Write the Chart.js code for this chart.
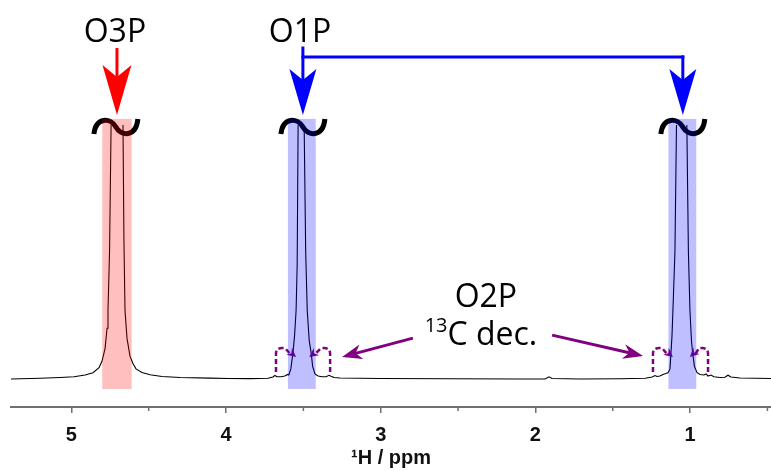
<!DOCTYPE html>
<html><head><meta charset="utf-8">
<script src="https://cdn.jsdelivr.net/npm/chart.js@4.4.1/dist/chart.umd.min.js"></script>
<style>html,body{margin:0;padding:0;background:#fff}</style>
</head><body>
<canvas id="c" width="771" height="470"></canvas>
<script>
// 1H NMR spectrum (ppm, relative intensity; peaks are truncated at 100)
const ppm = [5.390,5.202,5.073,4.983,4.911,4.860,4.821,4.802,4.782,4.769,4.763,4.753,4.743,4.737,4.724,4.705,4.686,4.673,4.666,4.660,4.653,4.640,4.621,4.601,4.582,4.543,4.491,4.414,4.297,4.103,3.987,3.845,3.729,3.697,3.684,3.671,3.645,3.620,3.601,3.594,3.581,3.568,3.557,3.547,3.540,3.534,3.527,3.514,3.501,3.495,3.485,3.475,3.462,3.449,3.440,3.425,3.405,3.379,3.353,3.334,3.321,3.302,3.263,3.005,2.553,2.100,1.938,1.912,1.892,1.711,1.452,1.290,1.245,1.227,1.214,1.195,1.176,1.156,1.143,1.130,1.124,1.117,1.111,1.098,1.088,1.079,1.056,1.033,1.021,1.011,1.001,0.991,0.983,0.972,0.955,0.936,0.910,0.897,0.884,0.865,0.846,0.807,0.775,0.755,0.736,0.677,0.477];
const intensity = [0.0,0.3,0.6,0.9,1.6,2.5,4.5,7,12,20,27,50,100,160,260,300,260,160,100,55,27,16,9,6,4,2.6,1.7,1.0,0.6,0.35,0.2,0.15,0.3,0.8,1.4,0.9,0.9,1.2,1.8,1.6,4,10,17,27,45,100,180,250,180,100,50,27,15,10,5,2,1.2,0.9,0.9,1.5,1.1,0.6,0.4,0.2,0.1,0.05,0.05,0.9,0.2,0.05,0.1,0.3,0.8,1.4,1.0,1.2,1.8,2.2,2.5,4,10,17,27,50,100,180,250,180,100,50,27,15,10,5,2.5,1.8,1.6,2.0,1.2,1.6,0.9,0.6,0.7,1.5,0.8,0.4,0.2];
const tickValues = [5,4,3,2,1];
const minorTickValues = [4.5,3.5,2.5,1.5,0.5];
const xLimits = [0.477, 5.39];
const yLimits = [-11, 100];

// highlighted regions [from ppm, to ppm]
const redBand = [4.80, 4.61];
const blueBands = [[3.60, 3.42], [1.14, 0.96]];
// peak positions
const o3pPeak = 4.705, o1pPeaks = [3.503, 1.047];

const annot = {
  id: 'annot',
  afterDraw(chart) {
    const ctx = chart.ctx, xs = chart.scales.x, ys = chart.scales.y;
    const X = v => xs.getPixelForValue(v), Y = v => ys.getPixelForValue(v);
    const ca = chart.chartArea;
    ctx.save();
    // minor ticks
    ctx.strokeStyle = '#707070'; ctx.lineWidth = 1.5;
    minorTickValues.forEach(v => { const x = X(v); ctx.beginPath(); ctx.moveTo(x, ca.bottom); ctx.lineTo(x, ca.bottom + 4); ctx.stroke(); });

    function head(tx, ty, fx, fy, len, hw, notch, color) {
      const a = Math.atan2(ty - fy, tx - fx);
      const dx = Math.cos(a), dy = Math.sin(a), px = -dy, py = dx;
      ctx.fillStyle = color; ctx.beginPath();
      ctx.moveTo(tx, ty);
      ctx.lineTo(tx - dx*len + px*hw, ty - dy*len + py*hw);
      ctx.lineTo(tx - dx*notch, ty - dy*notch);
      ctx.lineTo(tx - dx*len - px*hw, ty - dy*len - py*hw);
      ctx.closePath(); ctx.fill();
    }
    function line(x1,y1,x2,y2,color,w){ ctx.strokeStyle=color; ctx.lineWidth=w; ctx.beginPath(); ctx.moveTo(x1,y1); ctx.lineTo(x2,y2); ctx.stroke(); }

    // tildes (axis break marks)
    ctx.strokeStyle = '#000'; ctx.lineWidth = 5; ctx.lineCap = 'butt';
    [o3pPeak+0.007, o1pPeaks[0], o1pPeaks[1]].forEach(p => {
      const cx = X(p), cy = Y(99.2);
      ctx.beginPath();
      ctx.moveTo(cx-22, cy+7);
      ctx.bezierCurveTo(cx-20, cy-11, cx-5, cy-9, cx, cy);
      ctx.bezierCurveTo(cx+5, cy+9, cx+20, cy+11, cx+22, cy-8);
      ctx.stroke();
    });

    // purple dashed curved arrows (13C satellites)
    const purple = '#800080';
    const sats = [[3.677, 3.547], [3.327, 3.462], [1.240, 1.111], [0.884, 1.001]];
    sats.forEach(([s, t]) => {
      const xs0 = X(s), xt = X(t), dir = Math.sign(xt - xs0);
      const yb = Y(2.8), ytop = Y(12.2), ytip = Y(8.7);
      ctx.strokeStyle = purple; ctx.lineWidth = 2.5; ctx.setLineDash([5,3]);
      ctx.beginPath();
      ctx.moveTo(xs0, yb);
      ctx.lineTo(xs0, ytop + 6);
      ctx.quadraticCurveTo(xs0, ytop, xs0 + dir*6, ytop);
      ctx.lineTo(xs0 + dir*9, ytop);
      ctx.lineTo(xt - dir*5, ytip - 2);
      ctx.stroke();
      ctx.setLineDash([]);
      head(xt, ytip, xs0 + dir*9, ytop, 9, 4.5, 6, purple);
    });

    // bands (semi-transparent, on top of the trace)
    ctx.fillStyle = 'rgba(255,0,0,0.25)';
    ctx.fillRect(X(redBand[0]), Y(102.4), X(redBand[1]) - X(redBand[0]), Y(-3.9) - Y(102.4));
    ctx.fillStyle = 'rgba(0,0,255,0.25)';
    blueBands.forEach(b => ctx.fillRect(X(b[0]), Y(102.4), X(b[1]) - X(b[0]), Y(-3.9) - Y(102.4)));

    // O3P red arrow
    const rx = X(o3pPeak);
    line(rx, Y(130.3), rx, Y(114), '#ff0000', 3);
    head(rx, Y(103.9), rx, Y(130.3), 50, 14.5, 38, '#ff0000');

    // O1P blue bracket arrows
    const bx1 = X(o1pPeaks[0]), bx2 = X(o1pPeaks[1]), by = Y(126.8);
    ctx.lineCap = 'square';
    line(bx1, Y(130.3), bx1, Y(112), '#0000ff', 3);
    line(bx1, by, bx2, by, '#0000ff', 3);
    line(bx2, by, bx2, Y(112), '#0000ff', 3);
    ctx.lineCap = 'butt';
    head(bx1, Y(103.9), bx1, by, 46, 13.5, 35, '#0000ff');
    head(bx2, Y(103.9), bx2, by, 46, 13.5, 35, '#0000ff');

    // purple straight arrows
    [[2.792, 16.1, 3.250, 8.7], [1.892, 17.3, 1.304, 9.1]].forEach(([p1, v1, p2, v2]) => {
      const x1 = X(p1), y1 = Y(v1), x2 = X(p2), y2 = Y(v2);
      const a = Math.atan2(y2-y1, x2-x1);
      line(x1, y1, x2 - Math.cos(a)*12, y2 - Math.sin(a)*12, purple, 3);
      head(x2, y2, x1, y1, 20, 7.5, 14, purple);
    });

    // labels
    ctx.fillStyle = '#000'; ctx.textAlign = 'center'; ctx.textBaseline = 'alphabetic';
    ctx.font = '32px "Open Sans"';
    ctx.fillText('O3P', X(4.718), Y(132.7));
    ctx.fillText('O1P', X(3.522), Y(132.7));
    ctx.fillText('O2P', X(2.320), Y(28.5));
    // 13C dec.
    const cx = X(2.352), base = Y(13.4);
    ctx.font = '20px "Open Sans"'; const w1 = ctx.measureText('13').width;
    ctx.font = '32px "Open Sans"'; const w2 = ctx.measureText('C dec.').width;
    const x0 = cx - (w1 + w2) / 2;
    ctx.textAlign = 'left';
    ctx.font = '20px "Open Sans"'; ctx.fillText('13', x0, base - 13);
    ctx.font = '32px "Open Sans"'; ctx.fillText('C dec.', x0 + w1, base);
    ctx.restore();
  }
};

new Chart(document.getElementById('c'), {
  type: 'line',
  data: { datasets: [{
    data: ppm.map((p, i) => ({ x: p, y: intensity[i] })),
    borderColor: '#000', borderWidth: 1.1, pointRadius: 0, tension: 0, fill: false
  }]},
  options: {
    responsive: false, animation: false, devicePixelRatio: 1,
    layout: { padding: { top: 125, left: 11, right: 0, bottom: 0 } },
    plugins: { legend: { display: false }, tooltip: { enabled: false } },
    scales: {
      x: {
        type: 'linear', reverse: true, min: xLimits[0], max: xLimits[1],
        afterBuildTicks: s => { s.ticks = tickValues.map(v => ({ value: v })); },
        afterFit: s => { s.height = 63; },
        grid: { drawOnChartArea: false, drawTicks: true, tickLength: 6, color: '#707070', lineWidth: 1.5 },
        border: { display: true, color: '#707070', width: 2 },
        ticks: { padding: 10, color: '#111', font: { family: '"Liberation Sans Narrow", "Arial Narrow", "Liberation Sans", Arial', weight: 'bold', size: 20 }, callback: v => String(v), maxRotation: 0 },
        title: { display: true, text: '¹H / ppm', color: '#111', padding: { top: 0, bottom: 0 }, font: { family: '"Liberation Sans Narrow", "Arial Narrow", "Liberation Sans", Arial', weight: 'bold', size: 20 } }
      },
      y: { display: false, min: yLimits[0], max: yLimits[1] }
    }
  },
  plugins: [annot]
});
</script>
</body></html>
